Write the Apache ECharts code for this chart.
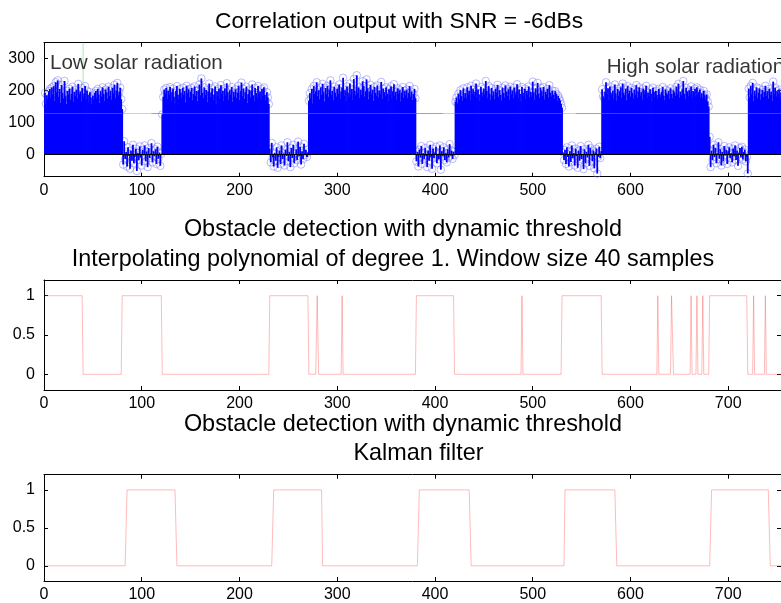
<!DOCTYPE html>
<html><head><meta charset="utf-8">
<script src="https://cdn.jsdelivr.net/npm/echarts@6/dist/echarts.min.js"></script>
<style>html,body{margin:0;padding:0;background:#fff}#c{width:781px;height:603px}</style>
</head><body><div id="c"></div>
<script>
// ---------- data ----------
const xTicks = [0, 100, 200, 300, 400, 500, 600, 700];
const corrTicks = [0, 100, 200, 300];
const binTicks = [0, 0.5, 1];

// correlation output, segment start sample and values
const segStarts = [1, 81, 121, 231, 271, 381, 421, 531, 571, 681, 721];
const segHighA = [192,158,185,172,198,205,176,210,188,214,
 168,226,195,232,181,205,162,218,193,176,
 230,184,158,199,187,206,171,190,212,165,
 196,183,203,175,221,188,197,166,208,179,
 191,214,172,200,186,163,195,178,157,184,
 170,192,199,176,205,187,161,198,181,210,
 189,167,203,194,175,212,183,199,171,208,
 191,218,176,200,224,185,196,209,173,142];
const segLowA = [-32,41,-15,8,-38,22,-5,-45,12,-20,
 30,-28,-8,18,-52,5,-18,25,-10,-35,
 14,-3,28,-22,9,-40,20,-12,3,35,
 -25,10,-6,16,-30,24,-14,6,-36,2];
const segHighB = [125,180,203,190,208,174,199,186,211,168,
 195,206,181,160,199,214,188,173,205,192,
 177,209,186,198,163,215,191,204,179,196,
 208,170,189,213,184,199,167,201,219,185,
 238,193,176,210,186,202,164,197,222,180,
 194,207,171,188,213,159,198,184,206,175,
 217,190,199,168,207,185,223,194,172,201,
 187,211,165,196,182,204,176,193,215,170,
 198,225,183,206,174,195,212,161,189,203,
 178,200,219,185,167,208,192,176,214,188,
 197,172,205,183,210,186,169,195,178,158];
const segLowB = [18,-25,36,-10,-38,5,-20,22,-42,-8,
 12,-30,28,-15,3,-35,15,-5,38,-22,
 8,-40,20,-12,30,-28,2,16,-18,40,
 -6,24,-32,10,-15,33,-2,14,-8,6];
const segHighC = [168,192,176,205,160,214,189,198,226,183,
 201,172,210,187,221,195,166,208,190,215,
 179,203,232,186,199,170,212,193,181,206,
 188,219,175,197,209,240,184,201,167,213,
 194,178,222,189,205,171,236,199,185,248,
 192,210,177,203,186,229,214,181,198,235,
 207,173,196,218,188,202,169,211,193,184,
 216,179,200,189,227,173,206,195,182,210,
 190,168,204,186,213,175,198,220,183,196,
 172,207,189,201,166,194,211,178,199,185,
 203,176,192,214,180,197,170,189,205,176];
const segLowC = [-22,8,-38,15,-10,26,-30,4,-15,20,
 -5,-40,12,-20,30,-8,-45,18,-12,6,
 24,-28,2,-16,28,-48,10,-6,22,-18,
 4,-25,16,-10,32,-4,12,-14,8,-2];
const segHighD = [165,178,160,190,172,201,183,168,207,179,
 192,175,210,186,199,171,215,189,204,182,
 196,222,177,203,188,168,211,194,181,206,
 187,230,199,176,214,190,170,208,184,197,
 173,205,192,218,180,201,186,169,209,193,
 178,216,197,183,204,171,212,188,200,175,
 209,186,195,220,177,203,189,166,211,192,
 183,206,174,199,187,213,179,196,182,228,
 194,171,207,185,224,190,176,209,198,183,
 211,172,196,188,205,178,217,193,181,200,
 186,173,198,190,165,184,176,169,158,146];
const segLowD = [6,-18,14,-30,22,-8,-38,10,-24,28,
 -12,4,-35,18,-6,-42,12,-20,26,-15,
 2,-46,16,-28,8,-10,30,-36,20,-4,
 -22,12,-44,6,18,-60,-8,24,-12,10];
const segHighE = [204,182,176,196,226,189,207,171,213,194,
 186,200,175,219,191,168,205,183,198,210,
 177,222,193,185,206,170,214,189,199,181,
 208,192,175,203,186,217,179,197,210,184,
 195,171,206,188,201,215,178,193,183,204,
 190,168,209,196,180,199,186,173,205,188,
 179,196,211,184,170,203,191,186,198,175,
 207,189,176,201,194,183,212,188,221,178,
 196,185,204,230,190,174,208,197,182,201,
 188,213,176,199,193,206,181,210,186,195,
 203,179,191,176,199,185,172,188,166,150];
const segLowE = [55,-40,12,-18,30,-8,20,-28,4,38,
 -14,16,-35,8,-22,26,-4,14,-30,10,
 22,-12,4,-25,18,-6,28,-18,12,-36,
 6,20,-10,24,-16,8,15,-22,-8,-60];
const segHighF = [206,178,214,190,224,168,199,185,210,176,
 193,207,171,189,202,180,196,215,183,198,
 174,205,187,196,168,228,190,209,181,198,
 186,203,175,194];
const corrSegments = [segHighA, segLowA, segHighB, segLowB, segHighC, segLowC,
  segHighD, segLowD, segHighE, segLowE, segHighF];

// thresholds drawn on the correlation plot
const thrLevel = 128;
const greenX = [40, 40, 754];
const greenY = [350, 128, 128];
const redStarts = [0, 110, 420, 544];
const redEnds = [80, 408, 530, 754];

// detection: interpolating polynomial (corner points)
const polyX = [1,39,40,79,80,120,121,230,231,270,271,278,279.5,281,304,305,306,380,381,419,420,
  488,489,490,529,530,570,571,627,628,629,641,642,643,644,661,662,663,667,668,669,673,674,675,
  680,681,719,720,725,726,727,737,738,739,754];
const polyY = [1,1,0,0,1,1,0,0,1,1,0,0,1,0,0,1,0,0,1,1,0,
  0,1,0,0,1,1,0,0,1,0,0,1,1,0,0,1,0,0,1,0,0,1,0,
  0,1,1,0,0,1,0,0,1,0,0];
// detection: Kalman filter (corner points)
const kalX = [1,83,85,134,136,233,235,284,285,382,384,435,437,532,533,584,586,681,683,741,743,754];
const kalY = [0,0,1,1,0,0,1,1,0,0,1,1,0,0,1,1,0,0,1,1,0,0];

const annotations = [
  {x: 6.1, y: 286, text: 'Low solar radiation'},
  {x: 575.8, y: 272, text: 'High solar radiation'}
];
const titles = [
  {text: 'Correlation output with SNR = -6dBs', cx: 399, cy: 22},
  {text: 'Obstacle detection with dynamic threshold', cx: 403, cy: 230},
  {text: 'Interpolating polynomial of degree 1. Window size 40 samples', cx: 393, cy: 260},
  {text: 'Obstacle detection with dynamic threshold', cx: 403, cy: 424.5},
  {text: 'Kalman filter', cx: 418.5, cy: 454}
];

// ---------- build ----------
const FONT = '"Liberation Sans", Arial, Helvetica, sans-serif';
const corrPts = [];
corrSegments.forEach((seg, k) => seg.forEach((v, i) => corrPts.push([segStarts[k] + i, v])));
const greenPts = greenX.map((x, i) => [x, greenY[i]]);
const redPts = [];
redStarts.forEach((s, i) => { redPts.push([s, thrLevel], [redEnds[i], thrLevel], [redEnds[i] + 0.5, '-']); });
const polyPts = polyX.map((x, i) => [x, polyY[i]]);
const kalPts = kalX.map((x, i) => [x, kalY[i]]);

const grids = [
  {left: 44, top: 42.7, width: 738.5, height: 134},
  {left: 44, top: 280, width: 738.5, height: 110},
  {left: 44, top: 474.7, width: 738.5, height: 108.6}
];
const yRanges = [[-70, 350], [-0.2, 1.2], [-0.2, 1.2]];
const yTickSets = [corrTicks, binTicks, binTicks];

const axLine = {show: true, onZero: false, lineStyle: {color: '#000', width: 1}};
const xAxes = [], yAxes = [];
grids.forEach((g, i) => {
  [ 'bottom', 'top' ].forEach(pos => {
    xAxes.push({
      type: 'value', gridIndex: i, position: pos, min: 0, max: 754,
      axisLine: axLine,
      axisTick: {show: true, inside: true, length: 4, customValues: xTicks, lineStyle: {color: '#000'}},
      axisLabel: {show: pos === 'bottom', customValues: xTicks, fontSize: 16, color: '#000', fontFamily: FONT, margin: 6},
      splitLine: {show: false}
    });
  });
  [ 'left', 'right' ].forEach(pos => {
    yAxes.push({
      type: 'value', gridIndex: i, position: pos, min: yRanges[i][0], max: yRanges[i][1],
      axisLine: axLine,
      axisTick: {show: true, inside: true, length: 4, customValues: yTickSets[i], lineStyle: {color: '#000'}},
      axisLabel: {show: pos === 'left', customValues: yTickSets[i], fontSize: 16, color: '#000', fontFamily: FONT, margin: 9},
      splitLine: {show: false}
    });
  });
});

const series = [
  {type: 'line', xAxisIndex: 0, yAxisIndex: 0, data: greenPts, showSymbol: false, z: 1,
   lineStyle: {color: '#a6eea6', width: 1}, silent: true},
  {type: 'scatter', xAxisIndex: 0, yAxisIndex: 0, data: corrPts, symbol: 'circle', symbolSize: 7.5, z: 2,
   itemStyle: {color: 'rgba(0,0,0,0)', borderColor: 'rgba(110,110,255,0.6)', borderWidth: 1}, silent: true},
  {type: 'bar', xAxisIndex: 0, yAxisIndex: 0, data: corrPts, barWidth: 1.8, z: 3,
   itemStyle: {color: '#0000ff'}, silent: true,
   markLine: {silent: true, symbol: 'none', label: {show: false},
     lineStyle: {color: '#000', width: 1, type: 'solid'}, data: [{yAxis: 0}]}},
  {type: 'line', xAxisIndex: 0, yAxisIndex: 0, data: redPts, showSymbol: false, z: 4, connectNulls: false,
   lineStyle: {color: 'rgba(220,90,60,0.55)', width: 1}, silent: true},
  {type: 'scatter', xAxisIndex: 0, yAxisIndex: 0, symbolSize: 0, z: 5, silent: true,
   data: annotations.map(a => ({value: [a.x, a.y], name: a.text})),
   label: {show: true, position: 'right', distance: 0, formatter: p => p.name,
     fontSize: 20.6, color: '#000', fontFamily: FONT}},
  {type: 'line', xAxisIndex: 2, yAxisIndex: 2, data: polyPts, showSymbol: false,
   lineStyle: {color: 'rgba(255,60,60,0.35)', width: 1}, silent: true},
  {type: 'line', xAxisIndex: 4, yAxisIndex: 4, data: kalPts, showSymbol: false,
   lineStyle: {color: 'rgba(255,60,60,0.35)', width: 1}, silent: true}
];

const graphic = titles.map((t, i) => ({
  type: 'text', x: t.cx, y: t.cy, silent: true,
  style: {text: t.text, fontSize: i === 0 ? 22.8 : 23.4, fontFamily: FONT, fill: '#000', align: 'center', verticalAlign: 'middle'}
}));

const chart = echarts.init(document.getElementById('c'), null, {renderer: 'canvas'});
chart.setOption({
  animation: false,
  backgroundColor: '#fff',
  grid: grids,
  xAxis: xAxes,
  yAxis: yAxes,
  series: series,
  graphic: graphic
});
</script>
</body></html>
